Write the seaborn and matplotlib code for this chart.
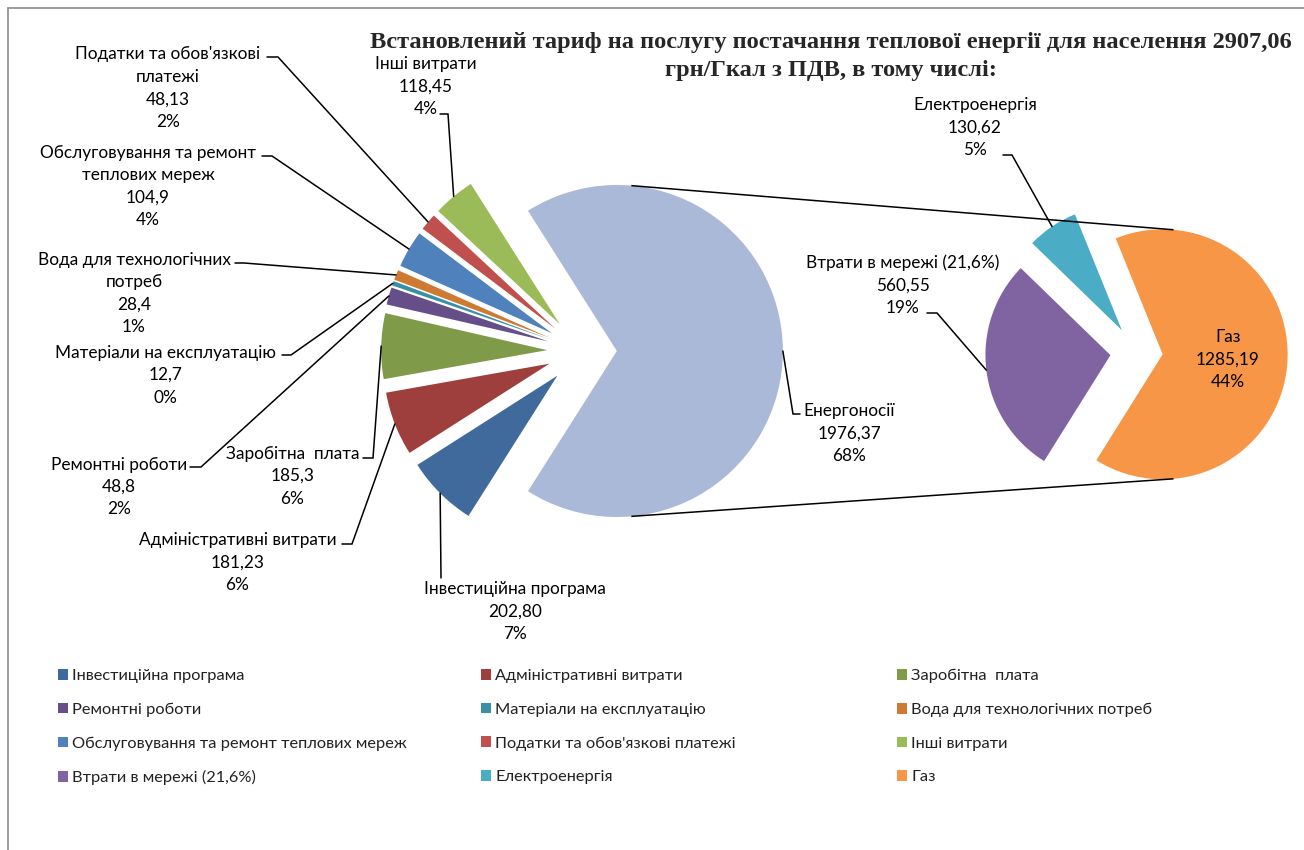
import matplotlib
matplotlib.use("Agg")
import matplotlib.pyplot as plt
import seaborn as sns
import numpy as np
from matplotlib.patches import Patch

# ---------------- data ----------------
main_categories = ["Інвестиційна програма", "Адміністративні витрати", "Заробітна  плата",
                   "Ремонтні роботи", "Матеріали на експлуатацію", "Вода для технологічних потреб",
                   "Обслуговування та ремонт теплових мереж", "Податки та обов'язкові платежі",
                   "Інші витрати", "Енергоносії"]
main_values = [202.80, 181.23, 185.3, 48.8, 12.7, 28.4, 104.9, 48.13, 118.45, 1976.37]
main_value_text = ["202,80", "181,23", "185,3", "48,8", "12,7", "28,4", "104,9", "48,13", "118,45", "1976,37"]
main_pct_text = ["7%", "6%", "6%", "2%", "0%", "1%", "4%", "2%", "4%", "68%"]

sub_categories = ["Втрати в мережі (21,6%)", "Електроенергія", "Газ"]
sub_values = [560.55, 130.62, 1285.19]
sub_value_text = ["560,55", "130,62", "1285,19"]
sub_pct_text = ["19%", "5%", "44%"]

title_lines = ["Встановлений тариф на послугу постачання теплової енергії для населення 2907,06",
               "грн/Гкал з ПДВ, в тому числі:"]

# ---------------- style ----------------
main_colors = ["#416A9C", "#9E3F3D", "#7F9A48", "#664E88", "#3A8FA6", "#CF7A33",
               "#4F81BD", "#C0504D", "#9BBB59", "#AAB9D7"]
sub_colors = ["#8064A2", "#4BACC6", "#F79646"]

sns.set_theme(style="white")
plt.rcParams['font.family'] = ['Lato', 'DejaVu Sans']

W, H = 1304, 850
fig = plt.figure(figsize=(W / 100, H / 100), dpi=100)
ax = fig.add_axes([0, 0, 1, 1])


def Y(py):
    return H - py


LABEL_FS = 12.4
LEGEND_FS = 11.75
LS = 1.5
EXPLODE = 0.21

# main pie
main_center = (582, Y(351))
main_r = 166
other_span = 360 * sum(main_values[:-1]) / sum(main_values)
main_start = 180 + other_span / 2
main_wedges, _ = ax.pie(main_values, colors=main_colors, startangle=main_start,
                        counterclock=False, explode=[EXPLODE * main_r] * len(main_values),
                        radius=main_r, center=main_center,
                        wedgeprops=dict(linewidth=0))

# secondary pie
sub_center = (1136.5, Y(352))
sub_r = 125
gas_span = 360 * sub_values[-1] / sum(sub_values)
sub_start = 360 - gas_span / 2 - 5
sub_wedges, _ = ax.pie(sub_values, colors=sub_colors, startangle=sub_start,
                       counterclock=False, explode=[EXPLODE * sub_r] * len(sub_values),
                       radius=sub_r, center=sub_center,
                       wedgeprops=dict(linewidth=0))

ax.set_xlim(0, W)
ax.set_ylim(0, H)
ax.set_aspect('equal')
ax.axis('off')


def arc_point(w, ang):
    cx, cy = w.center
    a = np.deg2rad(ang)
    return cx + w.r * np.cos(a), cy + w.r * np.sin(a)


def mid_point(w):
    return arc_point(w, (w.theta1 + w.theta2) / 2)


# connector lines between pies
energy = main_wedges[-1]
gas = sub_wedges[-1]
for s in (1, -1):
    p1 = arc_point(energy, 85 * s)
    p2 = arc_point(gas, 85 * s)
    ax.plot([p1[0], p2[0]], [p1[1], p2[1]], color="black", lw=1.1, solid_capstyle='butt')

# labels
main_label_text = list(main_categories)
main_label_text[5] = "Вода для технологічних\nпотреб"
main_label_text[6] = "Обслуговування та ремонт\nтеплових мереж"
main_label_text[7] = "Податки та обов'язкові\nплатежі"

main_label_pos = [(515, 611.5), (237.5, 563), (292.5, 476), (119, 487), (165, 375),
                  (134, 293.5), (148, 186.7), (168, 88), (426, 86.3), (849, 433.5)]
main_leaders = [[(441, 578)], [(342, 544), (352, 544)], [(363, 458), (373, 458)],
                [(190, 467), (201, 467)], [(282, 355), (291, 355)], [(235, 263), (244, 263)],
                [(262, 156), (272, 156)], [(267, 57), (278, 57)], [(440, 114), (448, 114)],
                [(800, 414), (793, 414)]]

sub_label_pos = [(903, 285.5), (975, 127.5), (1228, 359.5)]
sub_leaders = [[(927, 313), (937, 313)], [(1003, 155), (1012, 155)], None]


def draw_labels(wedges, texts, values, pcts, positions, leaders):
    for w, t, v, p, pos, ld in zip(wedges, texts, values, pcts, positions, leaders):
        ax.text(pos[0], Y(pos[1]), f"{t}\n{v}\n{p}", ha="center", va="center",
                fontsize=LABEL_FS, linespacing=LS, color="#000000")
        if ld:
            ax_pts = [(x, Y(y)) for x, y in ld] + [mid_point(w)]
            xs, ys = zip(*ax_pts)
            ax.plot(xs, ys, color="black", lw=1.1, solid_joinstyle='miter')


draw_labels(main_wedges, main_label_text, main_value_text, main_pct_text, main_label_pos, main_leaders)
draw_labels(sub_wedges, sub_categories, sub_value_text, sub_pct_text, sub_label_pos, sub_leaders)

# title (two separate lines, baselines as in the reference)
for line, base in zip(title_lines, (48, 76)):
    ax.text(831, Y(base), line, ha="center", va="baseline", fontsize=17.6,
            fontweight="bold", family=["Liberation Serif", "DejaVu Serif"])

# legend (3 columns, row-major order like the reference)
leg_cats = main_categories[:9] + sub_categories
leg_cols = main_colors[:9] + sub_colors
col_x = [58, 481, 897]
legends = []
for c in range(3):
    idx = list(range(c, len(leg_cats), 3))
    handles = [Patch(facecolor=leg_cols[i], edgecolor="none") for i in idx]
    labels = [leg_cats[i] for i in idx]
    lg = ax.legend(handles, labels, loc="upper left",
                   bbox_to_anchor=(col_x[c] / W, 1 - 669 / H), bbox_transform=fig.transFigure,
                   frameon=False, borderaxespad=0, borderpad=0, fontsize=LEGEND_FS,
                   handlelength=0.62, handleheight=0.62, handletextpad=0.25,
                   labelspacing=1.2)
    for txt in lg.get_texts():
        txt.set_color("#222222")
    legends.append(lg)
for lg in legends[:-1]:
    ax.add_artist(lg)

# outer frame
ax.plot([8, 8], [Y(8), Y(H + 5)], color="#8C8C8C", lw=1.2, clip_on=False)
ax.plot([8, W + 5], [Y(8), Y(8)], color="#8C8C8C", lw=1.2, clip_on=False)

fig.savefig("out.png", dpi=100)
